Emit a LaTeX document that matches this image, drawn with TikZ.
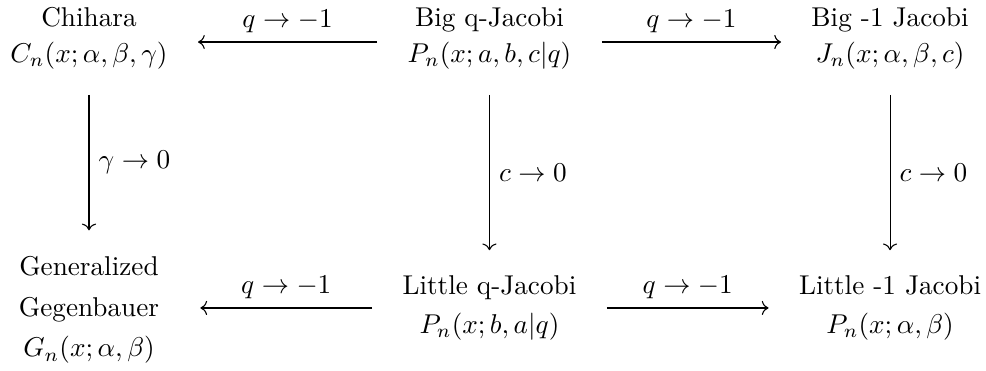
\documentclass[tikz,border=0pt]{standalone}
\usepackage{amsmath, amssymb}
\usepackage{tikz}
\usetikzlibrary{arrows.meta, positioning}

\begin{document}
\begin{tikzpicture}[>=To, family/.style={align=center, inner xsep=11pt, inner ysep=9.3pt}]
            \useasboundingbox (0,0) rectangle (12.74,-4.79);

            \node[family] (chihara) at (1.15,-0.497) {Chihara\\[1pt] $C_n(x;\alpha,\beta,\gamma)$};
            \node[family] (bigq) at (6.324,-0.497) {Big q-Jacobi\\[1pt] $P_n(x;a,b,c|q)$};
            \node[family] (bigone) at (11.5,-0.497) {Big -1 Jacobi\\[1pt] $J_n(x;\alpha,\beta,c)$};
            \node[family, text width=2.09cm] (gegen) at (1.15,-4.005) {Generalized\\[3pt] Gegenbauer\\[3pt] $G_n(x;\alpha,\beta)$};
            \node[family] (littleq) at (6.324,-3.979) {Little q-Jacobi\\[2pt] $P_n(x;b,a|q)$};
            \node[family] (littleone) at (11.5,-3.979) {Little -1 Jacobi\\[2pt] $P_n(x;\alpha,\beta)$};

            \draw[->] ([yshift=-1.3pt]bigq.west) -- node[above] {$q\to -1$} ([yshift=-1.3pt]chihara.east);
            \draw[->] ([yshift=-1.3pt]bigq.east) -- node[above] {$q\to -1$} ([yshift=-1.3pt]bigone.west);
            \draw[->] (littleq.west) -- node[above] {$q\to -1$} (littleq.west -| gegen.east);
            \draw[->] (littleq.east) -- node[above] {$q\to -1$} (littleone.west);

            \draw[->] (chihara) -- node[right] {$\gamma\to 0$} (gegen);
            \draw[->] (bigq) -- node[right] {$c\to 0$} (littleq);
            \draw[->] (bigone) -- node[right] {$c\to 0$} (littleone);
        \end{tikzpicture}
\end{document}
